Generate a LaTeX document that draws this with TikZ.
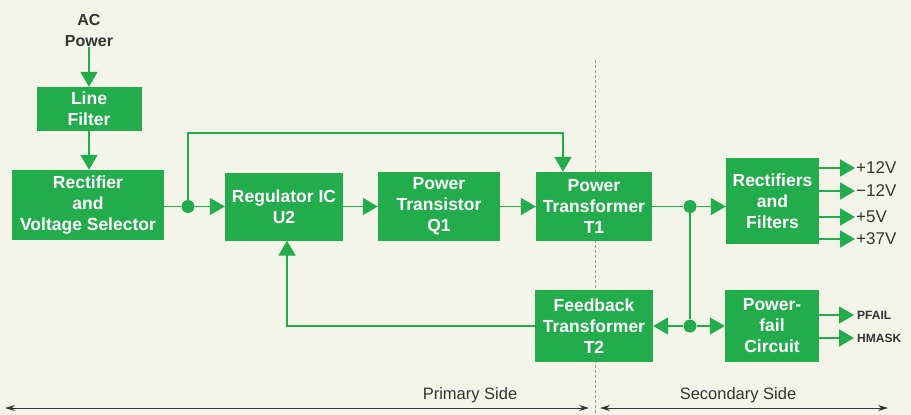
\documentclass[tikz,border=0pt]{standalone}
\usepackage{fontspec}
\setmainfont{Liberation Sans}
\usetikzlibrary{arrows.meta}
\definecolor{hpgreen}{RGB}{34,172,76}
\definecolor{bgcream}{RGB}{244,245,233}
\definecolor{inkgray}{RGB}{52,52,52}
\definecolor{dividergray}{RGB}{150,160,140}
\begin{document}
\begin{tikzpicture}[x=1pt,y=-1pt,
  box/.style={fill=hpgreen, text=white, font=\bfseries\fontsize{17.5}{21}\selectfont, align=center, inner sep=0pt},
  flow/.style={draw=hpgreen, line width=1.8pt, -{Triangle[length=15pt,width=17pt]}},
  wire/.style={draw=hpgreen, line width=1.8pt},
  junction/.style={circle, fill=hpgreen, minimum size=13pt, inner sep=0pt},
  outlabel/.style={text=inkgray, font=\fontsize{17}{20}\selectfont, anchor=west, inner sep=0pt},
  sigtext/.style={text=inkgray, font=\bfseries\fontsize{12}{14}\selectfont, anchor=west, inner sep=0pt},
  sidelabel/.style={text=inkgray, font=\fontsize{16.5}{20}\selectfont, inner sep=0pt},
  dimline/.style={draw=inkgray, line width=0.9pt, {Stealth[length=10pt,width=6pt]}-{Stealth[length=10pt,width=6pt]}},
  divider/.style={draw=dividergray, line width=0.9pt, dash pattern=on 3pt off 2pt}
]
\fill[bgcream] (0,0) rectangle (911,415);
\useasboundingbox (0,0) rectangle (911,415);

% divider
\coordinate (dtop) at (595,60);
\coordinate (dbot) at (595,415);
\draw[divider] (dtop) -- (dbot);

% boxes
\node[box, minimum width=105pt, minimum height=44pt] (lf) at (89,109) {Line\\Filter};
\node[box, minimum width=152pt, minimum height=70pt] (rvs) at (88,205) {Rectifier\\and\\Voltage Selector};
\node[box, minimum width=118pt, minimum height=68pt] (reg) at (284,206.5) {Regulator IC\\U2};
\node[box, minimum width=122pt, minimum height=69pt] (ptq) at (439,206.5) {Power\\Transistor\\Q1};
\node[box, minimum width=116pt, minimum height=69pt] (ptt) at (594,206.5) {Power\\Transformer\\T1};
\node[box, minimum width=93pt, minimum height=86pt] (rf) at (772.5,201) {Rectifiers\\and\\Filters};
\node[box, minimum width=118pt, minimum height=72pt] (fbt) at (594,326) {Feedback\\Transformer\\T2};
\node[box, minimum width=94pt, minimum height=72pt] (pfc) at (772,326) {Power-\\fail\\Circuit};

% AC power
\node[text=inkgray, font=\bfseries\fontsize{16}{21}\selectfont, align=center, inner sep=1pt] (ac) at (89,30) {AC\\Power};
\draw[flow] (ac.south) -- (ac.south |- lf.north);
\draw[flow] (lf.south) -- (lf.south |- rvs.north);

% junctions
\node[junction] (j1) at (188,206.5) {};
\node[junction] (j2) at (690,206.5) {};
\node[junction] (j3) at (690,326) {};

\draw[wire] (rvs.east |- j1) -- (j1);
\draw[flow] (j1) -- (j1 -| reg.west);
\coordinate (bypass) at (563,133);
\draw[flow] (j1.center) |- (bypass) -- (bypass |- ptt.north);
\draw[flow] (reg.east) -- (ptq.west);
\draw[flow] (ptq.east) -- (ptt.west);
\draw[wire] (ptt.east) -- (j2);
\draw[flow] (j2) -- (j2 -| rf.west);
\draw[wire] (j2) -- (j3);
\draw[flow] (j3) -- (j3 -| fbt.east);
\draw[flow] (j3) -- (j3 -| pfc.west);
\coordinate (fbcorner) at (287,326);
\draw[flow] (fbt.west) -- (fbcorner) -- (fbcorner |- reg.south);

% outputs
\coordinate (o1) at (855,168);
\coordinate (o2) at (855,191);
\coordinate (o3) at (855,217);
\coordinate (o4) at (855,239);
\draw[flow] (o1 -| rf.east) -- (o1);
\draw[flow] (o2 -| rf.east) -- (o2);
\draw[flow] (o3 -| rf.east) -- (o3);
\draw[flow] (o4 -| rf.east) -- (o4);
\node[outlabel] (l1) at ([xshift=1pt]o1) {+12V};
\node[outlabel] (l2) at ([xshift=1pt]o2) {−12V};
\node[outlabel] (l3) at ([xshift=1pt]o3) {+5V};
\node[outlabel] (l4) at ([xshift=1pt]o4) {+37V};

\coordinate (p1) at (854,315);
\coordinate (p2) at (854,338);
\draw[flow] (p1 -| pfc.east) -- (p1);
\draw[flow] (p2 -| pfc.east) -- (p2);
\node[sigtext] (s1) at ([xshift=3pt]p1) {PFAIL};
\node[sigtext] (s2) at ([xshift=3pt]p2) {HMASK};

% sides
\coordinate (pl) at (5,408);
\coordinate (pr) at (589,408);
\coordinate (sl) at (600,408);
\coordinate (sr) at (888,408);
\draw[dimline] (pl) -- (pr);
\draw[dimline] (sl) -- (sr);
\node[sidelabel] (prim) at (470,395) {Primary Side};
\node[sidelabel] (sec) at (738,395) {Secondary Side};
\end{tikzpicture}
\end{document}
